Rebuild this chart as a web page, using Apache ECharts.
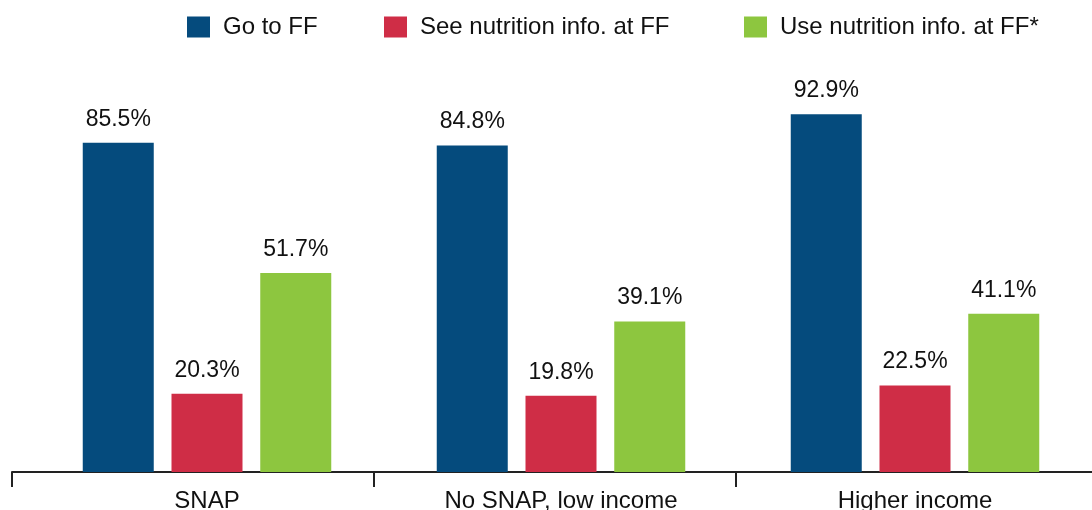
<!DOCTYPE html>
<html>
<head>
<meta charset="utf-8">
<script src="https://cdn.jsdelivr.net/npm/echarts@6/dist/echarts.min.js"></script>
<style>html,body{margin:0;padding:0;background:#fff;}#c{width:1092px;height:510px;}</style>
</head>
<body>
<div id="c"></div>
<script>
const categories = ['SNAP', 'No SNAP, low income', 'Higher income'];
const seriesNames = ['Go to FF', 'See nutrition info. at FF', 'Use nutrition info. at FF*'];
const goToFF = [85.5, 84.8, 92.9];
const seeInfo = [20.3, 19.8, 22.5];
const useInfo = [51.7, 39.1, 41.1];
const colors = ['#054B7D', '#CF2D46', '#8DC63F'];

const font = '"Liberation Sans", Arial, Helvetica, sans-serif';
const chart = echarts.init(document.getElementById('c'), null, {renderer: 'canvas'});
const values = [goToFF, seeInfo, useInfo];
const legendLefts = [187, 384, 744];

const option = {
  animation: false,
  textStyle: {fontFamily: font},
  legend: seriesNames.map((n, i) => ({
    data: [n], left: legendLefts[i], top: 15, padding: 0,
    itemWidth: 23, itemHeight: 21, icon: 'rect',
    textStyle: {fontSize: 24, color: '#111', fontFamily: font, padding: [0, 0, 0, 8]}
  })),
  grid: [
    {left: 30, right: 0, top: 87, bottom: 38, outerBoundsMode: 'none', containLabel: false},
    {left: 12, width: 1086, top: 87, bottom: 38, outerBoundsMode: 'none', containLabel: false}
  ],
  xAxis: [
    {type: 'category', gridIndex: 0, data: categories,
      axisLine: {show: false}, axisTick: {show: false},
      axisLabel: {fontSize: 24, color: '#111', margin: 17, fontFamily: font}},
    {type: 'category', gridIndex: 1, data: categories,
      axisLine: {show: true, lineStyle: {color: '#222', width: 2}},
      axisTick: {show: true, inside: false, length: 15, lineStyle: {color: '#222', width: 2}},
      axisLabel: {show: false}}
  ],
  yAxis: [
    {type: 'value', gridIndex: 0, min: 0, max: 100, show: false},
    {type: 'value', gridIndex: 1, min: 0, max: 100, show: false}
  ],
  series: seriesNames.map((n, i) => ({
    name: n, type: 'bar', xAxisIndex: 0, yAxisIndex: 0,
    data: values[i], barWidth: 71, barGap: '25%',
    itemStyle: {color: colors[i]},
    label: {show: true, position: 'top', distance: 12, fontSize: 23, color: '#111',
      fontFamily: font, formatter: p => p.value.toFixed(1) + '%'}
  }))
};
chart.setOption(option);
</script>
</body>
</html>
